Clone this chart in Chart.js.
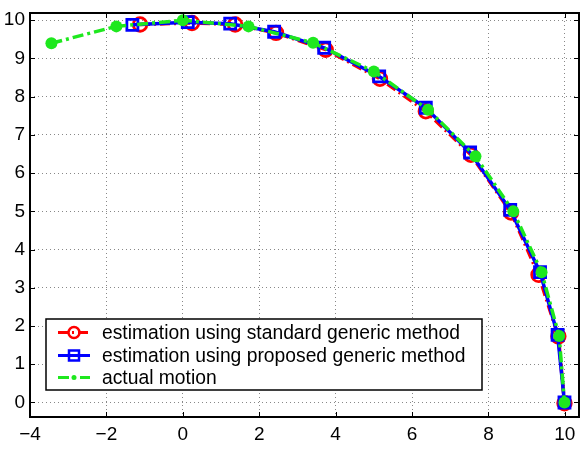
<!DOCTYPE html>
<html>
<head>
<meta charset="utf-8">
<script src="https://cdn.jsdelivr.net/npm/chart.js@4"></script>
<style>
  body { margin: 0; background: #fff; }
  #wrap { width: 580px; height: 450px; }
</style>
</head>
<body>
<div id="wrap"><canvas id="motion_chart" width="580" height="450"></canvas></div>
<script>
// values
var standard_x = [-1.12, 0.24, 1.37, 2.44, 3.74, 5.16, 6.36, 7.54, 8.59, 9.31, 9.83, 9.99]
var standard_y = [9.89, 9.93, 9.89, 9.67, 9.23, 8.47, 7.62, 6.48, 4.97, 3.34, 1.73, -0.02]

var proposed_x = [-1.32, 0.13, 1.24, 2.39, 3.70, 5.14, 6.36, 7.52, 8.57, 9.35, 9.81, 9.99]
var proposed_y = [9.88, 9.95, 9.91, 9.70, 9.28, 8.53, 7.71, 6.54, 5.04, 3.41, 1.77, 0.00]

var actual_x = [-3.44, -1.74, 0.00, 1.72, 3.41, 5.00, 6.42, 7.66, 8.65, 9.39, 9.85, 9.99]
var actual_y = [9.40, 9.84, 10.00, 9.84, 9.41, 8.66, 7.66, 6.44, 5.00, 3.41, 1.74, 0.00]

var legend_labels = [
    'estimation using standard generic method',
    'estimation using proposed generic method',
    'actual motion'
]

var x_ticks = [-4, -2, 0, 2, 4, 6, 8, 10]
var y_ticks = [0, 1, 2, 3, 4, 5, 6, 7, 8, 9, 10]

function toPoints(xs, ys){
    let pts = []
    for (var i = 0; i < xs.length; i++) {
        pts.push({x: xs[i], y: ys[i]})
    }
    return pts
}

var fontName = '"Liberation Sans", Arial, sans-serif'
var green = '#1ee81e'

// frame, inward ticks and legend box (matlab look)
var framePlugin = {
    id: 'frame',
    afterDraw: function(chart){
        var ctx = chart.ctx
        var a = chart.chartArea
        var xs = chart.scales.x
        var ys = chart.scales.y
        ctx.save()
        ctx.strokeStyle = '#000'
        ctx.lineWidth = 1
        ctx.beginPath()
        for (var t of x_ticks) {
            var px = Math.round(xs.getPixelForValue(t)) + 0.5
            ctx.moveTo(px, a.bottom); ctx.lineTo(px, a.bottom - 5)
            ctx.moveTo(px, a.top); ctx.lineTo(px, a.top + 5)
        }
        for (var t of y_ticks) {
            var py = Math.round(ys.getPixelForValue(t)) + 0.5
            ctx.moveTo(a.left, py); ctx.lineTo(a.left + 5, py)
            ctx.moveTo(a.right, py); ctx.lineTo(a.right - 5, py)
        }
        ctx.stroke()
        ctx.lineWidth = 2
        ctx.strokeRect(a.left, a.top, a.right - a.left, a.bottom - a.top)

        // legend
        var lx = 46, ly = 319, lw = 436, lh = 71
        ctx.fillStyle = '#fff'
        ctx.fillRect(lx, ly, lw, lh)
        ctx.lineWidth = 1.5
        ctx.strokeRect(lx, ly, lw, lh)
        ctx.font = '19.3px ' + fontName
        ctx.textBaseline = 'middle'
        var rows = [332.5, 355.5, 377.5]
        for (var i = 0; i < 3; i++) {
            var ds = chart.data.datasets[i]
            var yy = rows[i]
            ctx.strokeStyle = ds.borderColor
            ctx.lineWidth = 3
            ctx.setLineDash(ds.borderDash || [])
            ctx.beginPath()
            ctx.moveTo(58, yy); ctx.lineTo(90, yy)
            ctx.stroke()
            ctx.setLineDash([])
            ctx.lineWidth = 2.5
            if (i == 0) {
                ctx.beginPath(); ctx.arc(74, yy, 5.5, 0, Math.PI * 2); ctx.stroke()
            } else if (i == 1) {
                ctx.strokeRect(69, yy - 5, 10, 10)
            } else {
                ctx.fillStyle = green
                ctx.beginPath(); ctx.arc(74, yy, 2.5, 0, Math.PI * 2); ctx.fill()
            }
            ctx.fillStyle = '#000'
            ctx.fillText(legend_labels[i], 102, yy + 1)
        }
        ctx.restore()
    }
}

var ctx = document.getElementById('motion_chart').getContext('2d')
var motionChart = new Chart(ctx, {
    type: 'scatter',
    data: {
        datasets: [{
            label: legend_labels[0],
            data: toPoints(standard_x, standard_y),
            showLine: true,
            order: 2,
            borderColor: '#ff0000',
            borderWidth: 3.5,
            borderDash: [10, 4, 2, 4],
            pointStyle: 'circle',
            pointRadius: 6.8,
            pointBorderWidth: 2.8,
            pointBorderColor: '#ff0000',
            pointBackgroundColor: 'rgba(0,0,0,0)'
        }, {
            label: legend_labels[1],
            data: toPoints(proposed_x, proposed_y),
            showLine: true,
            order: 1,
            borderColor: '#0000ff',
            borderWidth: 3.5,
            pointStyle: 'rect',
            pointRadius: 7.8,
            pointBorderWidth: 2.8,
            pointBorderColor: '#0000ff',
            pointBackgroundColor: 'rgba(0,0,0,0)'
        }, {
            label: legend_labels[2],
            data: toPoints(actual_x, actual_y),
            showLine: true,
            order: 0,
            borderColor: green,
            borderWidth: 3.5,
            borderDash: [11, 4, 3, 4],
            pointStyle: 'circle',
            pointRadius: 6,
            pointBorderWidth: 0,
            pointBackgroundColor: green
        }]
    },
    options: {
        responsive: false,
        animation: false,
        // no auto padding, the big markers would shrink the plot box
        layout: { autoPadding: false, padding: { left: 0, right: 1, top: 13, bottom: 0 } },
        plugins: {
            legend: { display: false },
            tooltip: { enabled: false }
        },
        scales: {
            x: {
                type: 'linear',
                min: -4,
                max: 10.37,
                afterFit: function(s){ s.height = 33; s.paddingLeft = 0; s.paddingRight = 0 },
                afterBuildTicks: function(s){ s.ticks = x_ticks.map(v => ({value: v})) },
                border: { display: false, dash: [1, 3] },
                grid: { color: '#888', drawTicks: false, lineWidth: 1 },
                ticks: {
                    padding: 6,
                    color: '#000',
                    font: { family: fontName, size: 19 },
                    callback: v => String(v).replace('-', '\u2212')
                }
            },
            y: {
                type: 'linear',
                min: -0.38,
                max: 10.19,
                afterFit: function(s){ s.width = 30; s.paddingTop = 0; s.paddingBottom = 0 },
                afterBuildTicks: function(s){ s.ticks = y_ticks.map(v => ({value: v})) },
                border: { display: false, dash: [1, 3] },
                grid: { color: '#888', drawTicks: false, lineWidth: 1 },
                ticks: {
                    padding: 5,
                    color: '#000',
                    font: { family: fontName, size: 19 }
                }
            }
        }
    },
    plugins: [framePlugin]
})
</script>
</body>
</html>
